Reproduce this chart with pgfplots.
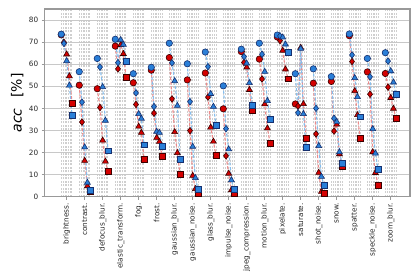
\documentclass[border=0pt]{standalone}
\usepackage{pgfplots}
\usepackage{pgfplotstable}
\pgfplotsset{compat=1.18}
\usepackage{fontspec}
\setmainfont{DejaVu Sans}
\definecolor{bfill}{HTML}{2A7FD8}
\definecolor{bedge}{HTML}{16306E}
\definecolor{rfill}{HTML}{D40000}
\definecolor{redge}{HTML}{3A0000}
\definecolor{bline}{HTML}{86BEEE}
\definecolor{rline}{HTML}{EE8A8A}
\definecolor{gridc}{HTML}{C8C8C8}
\definecolor{vgridc}{HTML}{CFCFCF}
\definecolor{framec}{HTML}{999999}

\pgfplotstableread{
cat sev b r
0 1 73.6 73.3
0 2 69.4 69.9
0 3 61.5 64.5
0 4 50.4 54.6
0 5 36.9 42.4
0 1 nan nan
1 1 56.6 50.5
1 2 42.8 33.8
1 3 22.4 16.3
1 4 6.4 4.8
1 5 3.0 2.5
1 1 nan nan
2 1 62.6 48.9
2 2 58.7 40.4
2 3 49.7 25.5
2 4 34.5 16.0
2 5 20.8 11.6
2 1 nan nan
3 1 71.3 68.2
3 2 60.7 57.9
3 3 71.0 68.8
3 4 68.9 64.7
3 5 61.2 54.0
3 1 nan nan
4 1 55.7 51.6
4 2 47.0 41.8
4 3 37.5 31.8
4 4 35.4 29.0
4 5 23.5 17.1
4 1 nan nan
5 1 58.6 57.3
5 2 40.8 37.8
5 3 29.5 26.7
5 4 29.0 24.9
5 5 22.7 18.4
5 1 nan nan
6 1 69.5 63.0
6 2 60.6 44.3
6 3 52.4 29.3
6 4 41.2 19.8
6 5 17.1 10.0
6 1 nan nan
7 1 60.2 52.9
7 2 43.0 29.9
7 3 22.7 9.5
7 4 8.5 3.5
7 5 3.2 1.3
7 1 nan nan
8 1 65.5 56.0
8 2 58.9 45.1
8 3 46.6 31.4
8 4 40.8 25.0
8 5 32.5 18.6
8 1 nan nan
9 1 50.2 39.8
9 2 30.8 18.5
9 3 21.5 10.5
9 4 7.5 3.0
9 5 3.3 1.4
9 1 nan nan
10 1 66.8 65.7
10 2 63.4 60.8
10 3 60.4 58.6
10 4 51.5 48.4
10 5 41.5 38.9
10 1 nan nan
11 1 69.5 62.3
11 2 64.5 53.3
11 3 56.6 41.9
11 4 43.4 31.0
11 5 35.2 24.3
11 1 nan nan
12 1 73.2 72.3
12 2 72.8 70.7
12 3 72.2 66.2
12 4 69.0 57.7
12 5 65.4 53.4
12 1 nan nan
13 1 55.7 42.0
13 2 38.0 41.0
13 3 67.0 67.5
13 4 37.5 42.0
13 5 22.2 26.4
13 1 nan nan
14 1 57.9 51.4
14 2 40.0 28.4
14 3 23.0 10.9
14 4 9.1 2.3
14 5 5.3 1.5
14 1 nan nan
15 1 54.4 52.2
15 2 35.5 29.7
15 3 34.0 32.7
15 4 20.2 19.3
15 5 15.1 13.7
15 1 nan nan
16 1 73.7 72.9
16 2 64.2 61.2
16 3 53.8 47.9
16 4 45.2 37.0
16 5 36.2 26.4
16 1 nan nan
17 1 62.6 56.5
17 2 54.3 46.4
17 3 30.7 20.2
17 4 19.6 10.8
17 5 12.3 5.3
17 1 nan nan
18 1 65.2 55.8
18 2 61.4 49.6
18 3 56.9 44.8
18 4 51.8 39.9
18 5 46.2 35.5
}\data

\begin{document}
\begin{tikzpicture}
\begin{axis}[
  name=ax,
  scale only axis,
  width=365.3pt, height=187.7pt,
  xmin=-1.22, xmax=19.07, ymin=0, ymax=85,
  xtick={0,1,2,3,4,5,6,7,8,9,10,11,12,13,14,15,16,17,18},
  xticklabels={brightness.,contrast.,defocus\_blur.,elastic\_transform.,fog.,frost.,gaussian\_blur.,gaussian\_noise.,glass\_blur.,impulse\_noise.,jpeg\_compression.,motion\_blur.,pixelate.,saturate.,shot\_noise.,snow.,spatter.,speckle\_noise.,zoom\_blur.},
  ytick={0,10,20,30,40,50,60,70,80},
  minor xtick={-0.28,-0.19,-0.09,0.09,0.19,0.28,
    0.72,0.81,0.91,1.09,1.19,1.28,
    1.72,1.81,1.91,2.09,2.19,2.28,
    2.72,2.81,2.91,3.09,3.19,3.28,
    3.72,3.81,3.91,4.09,4.19,4.28,
    4.72,4.81,4.91,5.09,5.19,5.28,
    5.72,5.81,5.91,6.09,6.19,6.28,
    6.72,6.81,6.91,7.09,7.19,7.28,
    7.72,7.81,7.91,8.09,8.19,8.28,
    8.72,8.81,8.91,9.09,9.19,9.28,
    9.72,9.81,9.91,10.09,10.19,10.28,
    10.72,10.81,10.91,11.09,11.19,11.28,
    11.72,11.81,11.91,12.09,12.19,12.28,
    12.72,12.81,12.91,13.09,13.19,13.28,
    13.72,13.81,13.91,14.09,14.19,14.28,
    14.72,14.81,14.91,15.09,15.19,15.28,
    15.72,15.81,15.91,16.09,16.19,16.28,
    16.72,16.81,16.91,17.09,17.19,17.28,
    17.72,17.81,17.91,18.09,18.19,18.28},
  xmajorgrids, xminorgrids, ymajorgrids,
  major x grid style={vgridc, line width=0.45pt, dash pattern=on 2pt off 1.5pt},
  minor x grid style={vgridc, line width=0.45pt, dash pattern=on 2pt off 1.5pt},
  major y grid style={gridc, line width=0.8pt},
  minor tick length=0pt,
  major tick length=3pt,
  tick align=outside,
  tick style={framec, line width=0.7pt},
  xtick pos=bottom, ytick pos=left,
  axis line style={framec, line width=1.2pt},
  /pgf/number format/assume math mode=true,
  ticklabel style={font=\fontsize{7.3}{8.5}\selectfont, text=black!85},
  xticklabel style={rotate=90, anchor=east},
  ylabel={\textit{acc}\hspace{11pt}[\%]},
  every axis y label/.style={at={(axis description cs:0,0.5)}, xshift=-27.5pt, rotate=90, anchor=center, font=\fontsize{14}{16}\selectfont},
  clip=false,
]
\addplot[no markers, rline, line width=1.1pt, dash pattern=on 3pt off 1.8pt, unbounded coords=jump]
  table[x expr=\thisrow{cat}+(\thisrow{sev}-3)*0.15, y=r]{\data};
\addplot[no markers, bline, line width=1.1pt, dash pattern=on 3pt off 1.8pt, unbounded coords=jump]
  table[x expr=\thisrow{cat}+(\thisrow{sev}-3)*0.15, y=b]{\data};
\addplot[scatter, only marks, scatter src=explicit symbolic,
  scatter/classes={
    1={mark=*, mark size=3.2pt, draw=redge, fill=rfill, line width=0.6pt},
    2={mark=diamond*, mark size=3.3pt, draw=redge, fill=rfill, line width=0.6pt},
    3={mark=triangle*, mark size=3.4pt, mark options={rotate=180}, draw=redge, fill=rfill, line width=0.6pt},
    4={mark=triangle*, mark size=3.4pt, draw=redge, fill=rfill, line width=0.6pt},
    5={mark=square*, mark size=2.9pt, draw=redge, fill=rfill, line width=0.6pt}}]
  table[x expr=\thisrow{cat}+(\thisrow{sev}-3)*0.15, y=r, meta=sev]{\data};
\addplot[scatter, only marks, scatter src=explicit symbolic,
  scatter/classes={
    1={mark=*, mark size=3.2pt, draw=bedge, fill=bfill, line width=0.6pt},
    2={mark=diamond*, mark size=3.3pt, draw=bedge, fill=bfill, line width=0.6pt},
    3={mark=triangle*, mark size=3.4pt, mark options={rotate=180}, draw=bedge, fill=bfill, line width=0.6pt},
    4={mark=triangle*, mark size=3.4pt, draw=bedge, fill=bfill, line width=0.6pt},
    5={mark=square*, mark size=2.9pt, draw=bedge, fill=bfill, line width=0.6pt}}]
  table[x expr=\thisrow{cat}+(\thisrow{sev}-3)*0.15, y=b, meta=sev]{\data};
\end{axis}
\pgfresetboundingbox
\path ([shift={(-44.7pt,-79.3pt)}]ax.south west) rectangle ([shift={(9pt,9pt)}]ax.north east);
\end{tikzpicture}
\end{document}
